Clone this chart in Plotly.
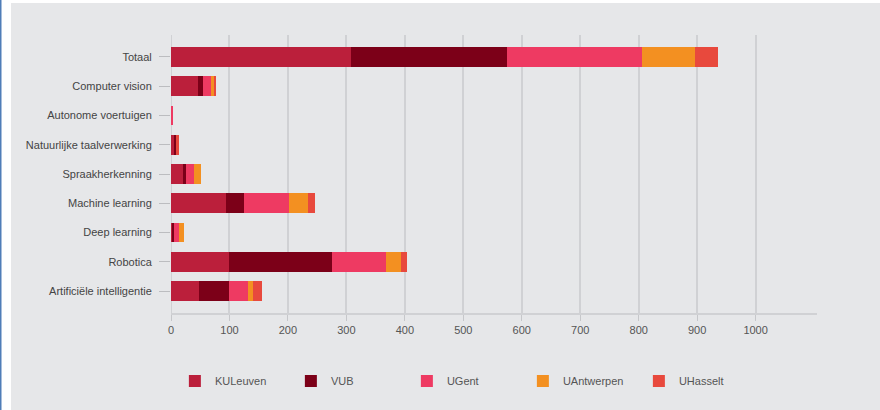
import plotly.graph_objects as go

categories = ["Totaal", "Computer vision", "Autonome voertuigen", "Natuurlijke taalverwerking",
              "Spraakherkenning", "Machine learning", "Deep learning", "Robotica",
              "Artificiële intelligentie"]
kuleuven = [308, 46, 0, 6, 20, 94, 1, 100, 48]
vub = [267, 8, 0, 3, 6, 31, 4, 176, 52]
ugent = [230, 14, 2, 0, 14, 77, 9, 92, 31]
uantwerpen = [92, 5, 0, 0, 11, 32, 9, 25, 9]
uhasselt = [39, 4, 0, 5, 0, 13, 0, 11, 16]
series_names = ["KULeuven", "VUB", "UGent", "UAntwerpen", "UHasselt"]
colors = ["#bb1f3b", "#7c0018", "#ee3a62", "#f39021", "#e8493d"]
x_ticks = [0, 100, 200, 300, 400, 500, 600, 700, 800, 900, 1000]

fig = go.Figure()
for name, vals, col in zip(series_names, [kuleuven, vub, ugent, uantwerpen, uhasselt], colors):
    fig.add_trace(go.Bar(y=categories, x=vals, name=name, orientation="h",
                         marker=dict(color=col, line=dict(width=0))))

L, R, T, B = 171, 63, 35, 97
fig.update_layout(
    width=880, height=410,
    barmode="stack", bargap=0.33,
    paper_bgcolor="#e6e7e9", plot_bgcolor="#e6e7e9",
    margin=dict(l=L, r=R, t=T, b=B, pad=0),
    font=dict(family="Liberation Sans, Arial, sans-serif", size=11, color="#555555"),
    showlegend=True,
    legend=dict(orientation="h", x=0.006, xanchor="left", y=-0.245, yanchor="middle",
                entrywidth=71, font=dict(size=11, color="#555555"),
                bgcolor="rgba(0,0,0,0)", traceorder="normal"),
    xaxis=dict(range=[0, 1105], tickvals=x_ticks, showgrid=True, gridcolor="#d0d1d4",
               gridwidth=2, zeroline=False, showline=True, linecolor="#d0d1d4", linewidth=2,
               ticks="outside", ticklen=6, tickcolor="#c6c7ca", tickwidth=1,
               tickfont=dict(size=11, color="#555555"), fixedrange=True),
    yaxis=dict(categoryorder="array", categoryarray=categories, range=[8.75, -0.75],
               showgrid=False, zeroline=False, showline=False,
               ticks="outside", ticklen=11, tickcolor="#bcbdc0", tickwidth=1,
               ticklabelstandoff=5, fixedrange=True,
               tickfont=dict(size=11, color="#444444")),
    shapes=[
        dict(type="line", xref="x", yref="paper", x0=0, x1=0, y0=0, y1=1,
             line=dict(color="#d0d1d4", width=2), layer="below"),
        dict(type="rect", xref="paper", yref="paper", xsizemode="pixel", ysizemode="pixel",
             xanchor=0, yanchor=1, x0=-L, x1=-L + 11, y0=-400, y1=T + 5,
             fillcolor="#ffffff", line=dict(width=0)),
        dict(type="rect", xref="paper", yref="paper", xsizemode="pixel", ysizemode="pixel",
             xanchor=0, yanchor=1, x0=-L, x1=900, y0=T - 3, y1=T + 5,
             fillcolor="#ffffff", line=dict(width=0)),
        dict(type="rect", xref="paper", yref="paper", xsizemode="pixel", ysizemode="pixel",
             xanchor=0, yanchor=1, x0=-L, x1=-L + 1.5, y0=-400, y1=T + 5,
             fillcolor="#4f7db8", line=dict(width=0)),
    ],
)
fig.write_html("out.html", config={"displayModeBar": False},
               post_script="document.body.style.margin='0';")
